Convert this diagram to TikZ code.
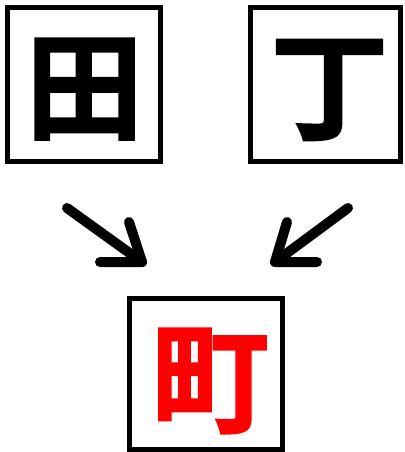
\documentclass[tikz,border=0pt]{standalone}
\usepackage{fontspec}
\newfontfamily\cjk[BoldFont={Noto Sans CJK JP Bold},BoldFeatures={FakeBold=1.5}]{Noto Sans CJK JP}
\definecolor{kred}{RGB}{255,0,0}
\tikzset{
  frame/.style={draw=black,line width=5pt,fill=white},
  kanji/.style={font=\cjk\bfseries\fontsize{118}{118}\selectfont,inner sep=0pt},
  bigarrow/.style={draw=black,line width=10pt,line cap=round,line join=round}
}
\begin{document}
\begin{tikzpicture}[x=1pt,y=-1pt]
\useasboundingbox (0,0) rectangle (404,452);
\fill[white] (0,0) rectangle (404,452);
\draw[frame] (7.5,7.5) rectangle (160.5,161.5);
\draw[frame] (250.5,7.5) rectangle (400.5,161.5);
\draw[frame] (129.5,298.5) rectangle (282.5,449.5);
\node[kanji] (ta) at (84.5,89) {田};
\node[kanji] (tei) at (329.5,90) {丁};
\node[kanji,text=kred] (machi) at (210,381) {町};
\coordinate (la) at (67,208);
\coordinate (lt) at (142,262);
\coordinate (lu) at (129,222);
\coordinate (ll) at (100,262);
\coordinate (ra) at (348,208);
\coordinate (rt) at (275,262);
\coordinate (ru) at (287,222);
\coordinate (rl) at (317,262);
\draw[bigarrow] (la) -- (lt);
\draw[bigarrow] (lu) -- (lt) -- (ll);
\draw[bigarrow] (ra) -- (rt);
\draw[bigarrow] (ru) -- (rt) -- (rl);
\end{tikzpicture}
\end{document}
